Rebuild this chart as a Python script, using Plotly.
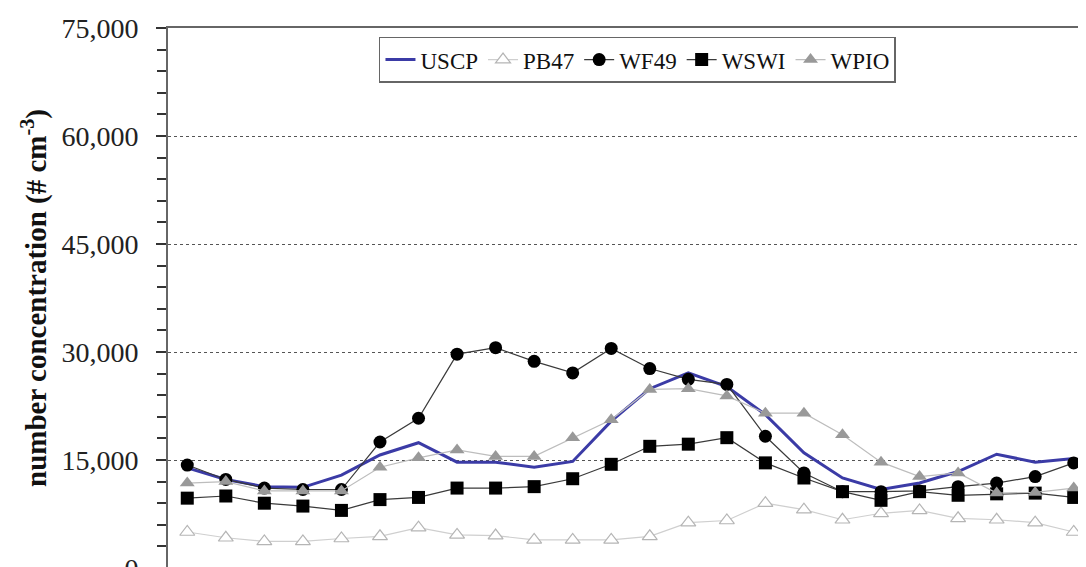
import plotly.graph_objects as go

hours = list(range(24))
x_ticks = [h - 0.5 for h in range(25)]

uscp = [13900, 12300, 11300, 11200, 12900, 15700, 17400, 14700, 14700, 14000, 14800, 20400,
        24900, 27100, 25200, 21300, 16000, 12500, 10900, 11800, 13400, 15800, 14700, 15200]
pb47 = [5000, 4200, 3700, 3700, 4100, 4400, 5600, 4600, 4500, 3900, 3900, 3900,
        4400, 6300, 6600, 9000, 8100, 6700, 7600, 8000, 6900, 6700, 6300, 5000]
wf49 = [14300, 12300, 11100, 10900, 10900, 17500, 20800, 29700, 30600, 28700, 27100, 30500,
        27700, 26200, 25500, 18300, 13200, 10600, 10600, 10700, 11300, 11800, 12700, 14600]
wswi = [9700, 10000, 9000, 8600, 8000, 9500, 9800, 11100, 11100, 11300, 12400, 14400,
        16900, 17200, 18100, 14600, 12500, 10600, 9400, 10600, 10100, 10300, 10400, 9800]
wpio = [11800, 12000, 10700, 10700, 10700, 14000, 15300, 16400, 15500, 15500, 18100, 20600,
        24800, 24900, 23900, 21500, 21500, 18500, 14700, 12700, 13200, 10400, 10500, 11100]

y_ticks = [0, 15000, 30000, 45000, 60000, 75000]

FONT = "Liberation Serif, Times New Roman, serif"

fig = go.Figure()
fig.add_trace(go.Scatter(x=hours, y=uscp, name="USCP", mode="lines",
                         line=dict(color="#3b3ba6", width=3)))
fig.add_trace(go.Scatter(x=hours, y=pb47, name="PB47", mode="lines+markers",
                         line=dict(color="#cfcfcf", width=1.2),
                         marker=dict(symbol="triangle-up", size=13, color="white",
                                     line=dict(color="#b5b5b5", width=1.2))))
fig.add_trace(go.Scatter(x=hours, y=wf49, name="WF49", mode="lines+markers",
                         line=dict(color="#3a3a3a", width=1.2),
                         marker=dict(symbol="circle", size=13, color="black",
                                     line=dict(color="black", width=0))))
fig.add_trace(go.Scatter(x=hours, y=wswi, name="WSWI", mode="lines+markers",
                         line=dict(color="#3a3a3a", width=1.2),
                         marker=dict(symbol="square", size=13, color="black",
                                     line=dict(color="black", width=0))))
fig.add_trace(go.Scatter(x=hours, y=wpio, name="WPIO", mode="lines+markers",
                         line=dict(color="#bdbdbd", width=1.2),
                         marker=dict(symbol="triangle-up", size=13, color="#999999",
                                     line=dict(color="#999999", width=0))))

fig.update_layout(
    width=1086, height=567,
    margin=dict(l=160, r=1, t=20, b=7, autoexpand=False),
    paper_bgcolor="white", plot_bgcolor="white",
    font=dict(family=FONT, color="#222222"),
    showlegend=True,
    legend=dict(orientation="h", x=0.787, y=0.984, xanchor="right", yanchor="top",
                bordercolor="#666666", borderwidth=1.5, bgcolor="white",
                font=dict(family=FONT, size=23, color="#111111"),
                itemwidth=30, tracegroupgap=0),
)
fig.update_xaxes(range=[-0.5, 23.5], tickvals=x_ticks, ticktext=[""] * len(x_ticks),
                 ticks="outside", ticklen=7, tickcolor="#555555", tickwidth=2,
                 showline=True, linecolor="#666666", linewidth=2, mirror=True,
                 showgrid=False, zeroline=False)
fig.update_yaxes(range=[0, 75000], tickmode="array", tickvals=y_ticks, tickformat=",",
                 ticks="outside", ticklen=10, tickcolor="#333333", tickwidth=2,
                 automargin=False, layer="above traces",
                 ticklabelstandoff=12, ticklabeloverflow="allow",
                 tickfont=dict(family=FONT, size=28, color="#222222"),
                 minor=dict(dtick=3000, ticks="outside", ticklen=9,
                            tickcolor="#333333", tickwidth=2, showgrid=False),
                 showline=True, linecolor="#666666", linewidth=2, mirror=True,
                 showgrid=True, gridcolor="#555555", gridwidth=1.3, griddash="dot",
                 zeroline=False,
                 title=dict(text="<b>number concentration (# cm<sup>-3</sup>)</b>",
                            font=dict(family=FONT, size=29, color="#111111"),
                            standoff=6))

fig.write_html("out.html")
